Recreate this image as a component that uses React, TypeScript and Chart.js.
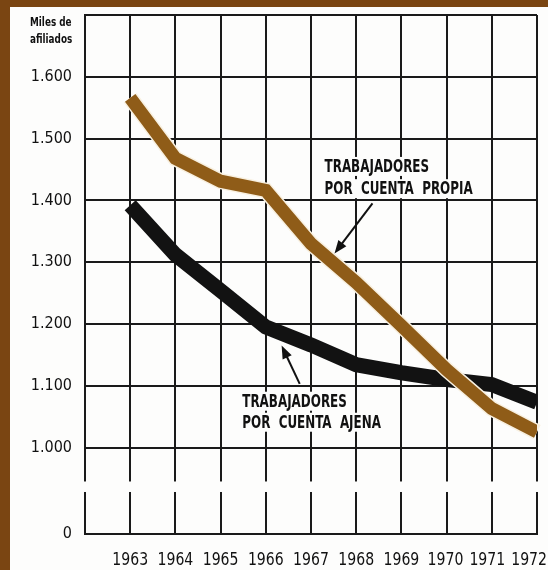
import React, { useEffect, useRef } from 'react';
import { Chart, registerables } from 'chart.js';

Chart.register(...registerables);

// ---- data ----
const years = [1963, 1964, 1965, 1966, 1967, 1968, 1969, 1970, 1971, 1972];
const cuentaPropia = [1566, 1468, 1431, 1416, 1330, 1267, 1197, 1126, 1063, 1025];
const cuentaAjena = [1392, 1312, 1254, 1195, 1166, 1134, 1121, 1110, 1102, 1073];
const yTickValues = [860, 1000, 1100, 1200, 1300, 1400, 1500, 1600, 1700];
const yAxisBottomLabel = '0';
const axisTitle = ['Miles de', 'afiliados'];
const labelPropia = ['TRABAJADORES', 'POR  CUENTA  PROPIA'];
const labelAjena = ['TRABAJADORES', 'POR  CUENTA  AJENA'];
const breakUpper = 945;
const breakLower = 928;

// ---- style ----
const FRAME = '#7a4512';
const PAPER = '#fdfdfc';
const BROWN = '#8f5c18';
const BLACK = '#121212';
const GRID = '#1a1a1a';
const FONT = "'DejaVu Sans Condensed', 'Liberation Sans Narrow', sans-serif";

function fmtThousands(v: number): string {
  const th = Math.floor(v / 1000);
  const rest = String(v % 1000).padStart(3, '0');
  return `${th}.${rest}`;
}

function drawArrow(ctx: CanvasRenderingContext2D, x1: number, y1: number, x2: number, y2: number) {
  const ang = Math.atan2(y2 - y1, x2 - x1);
  const headLen = 13;
  const headW = 5;
  ctx.save();
  ctx.strokeStyle = '#111';
  ctx.fillStyle = '#111';
  ctx.lineWidth = 2;
  ctx.beginPath();
  ctx.moveTo(x1, y1);
  ctx.lineTo(x2 - Math.cos(ang) * headLen * 0.8, y2 - Math.sin(ang) * headLen * 0.8);
  ctx.stroke();
  ctx.beginPath();
  ctx.moveTo(x2, y2);
  ctx.lineTo(x2 - Math.cos(ang) * headLen - Math.sin(ang) * headW, y2 - Math.sin(ang) * headLen + Math.cos(ang) * headW);
  ctx.lineTo(x2 - Math.cos(ang) * headLen + Math.sin(ang) * headW, y2 - Math.sin(ang) * headLen - Math.cos(ang) * headW);
  ctx.closePath();
  ctx.fill();
  ctx.restore();
}

const SQUEEZE = 0.78;

function drawLabel(ctx: CanvasRenderingContext2D, lines: string[], x: number, baselines: number[]) {
  ctx.save();
  ctx.font = `bold 17px ${FONT}`;
  ctx.textAlign = 'left';
  ctx.textBaseline = 'alphabetic';
  lines.forEach((t, i) => {
    const w = ctx.measureText(t).width * SQUEEZE;
    ctx.fillStyle = PAPER;
    ctx.fillRect(x - 3, baselines[i] - 15, w + 6, 19);
  });
  ctx.fillStyle = '#111';
  lines.forEach((t, i) => {
    ctx.save();
    ctx.translate(x, baselines[i]);
    ctx.scale(SQUEEZE, 1);
    ctx.fillText(t, 0, 0);
    ctx.restore();
  });
  ctx.restore();
}

const decorPlugin = {
  id: 'decor',
  beforeDatasetsDraw(chart: any) {
    const { ctx, chartArea, scales } = chart;
    const y = scales.y;
    const top = y.getPixelForValue(breakUpper);
    const bottom = y.getPixelForValue(breakLower);
    ctx.save();
    ctx.fillStyle = PAPER;
    ctx.fillRect(chartArea.left - 3, top, chartArea.right - chartArea.left + 6, bottom - top);
    ctx.restore();
  },
  beforeDatasetDraw(chart: any, args: any) {
    if (args.index !== 0) return;
    const meta = chart.getDatasetMeta(0);
    const ctx = chart.ctx;
    ctx.save();
    ctx.strokeStyle = '#f8f0e0';
    ctx.lineWidth = 16;
    ctx.lineJoin = 'miter';
    ctx.beginPath();
    meta.data.forEach((p: any, i: number) => (i === 0 ? ctx.moveTo(p.x, p.y) : ctx.lineTo(p.x, p.y)));
    ctx.stroke();
    ctx.restore();
  },
  afterDatasetsDraw(chart: any) {
    const { ctx, chartArea, scales, width } = chart;
    const x = scales.x;
    const y = scales.y;
    // axis title
    ctx.save();
    ctx.font = `bold 12px ${FONT}`;
    ctx.fillStyle = '#111';
    ctx.textAlign = 'left';
    ctx.textBaseline = 'alphabetic';
    axisTitle.forEach((t, i) => {
      ctx.save();
      ctx.translate(chartArea.left - 55, chartArea.top + 11 + i * 17);
      ctx.scale(0.82, 1);
      ctx.fillText(t, 0, 0);
      ctx.restore();
    });
    ctx.restore();

    // year labels: centred on their gridline, pushed left only to stay inside the canvas
    ctx.save();
    ctx.font = `17px ${FONT}`;
    ctx.fillStyle = '#111';
    ctx.textAlign = 'left';
    ctx.textBaseline = 'alphabetic';
    const sx = 0.92;
    const gap = 6;
    const items = years.map((yr) => {
      const t = String(yr);
      const w = ctx.measureText(t).width * sx;
      return { t, w, cx: x.getPixelForValue(yr) };
    });
    for (let i = items.length - 1; i >= 0; i--) {
      const limit = i === items.length - 1 ? width - 1 : items[i + 1].cx - items[i + 1].w / 2 - gap;
      items[i].cx = Math.min(items[i].cx, limit - items[i].w / 2);
    }
    items.forEach((it) => {
      ctx.save();
      ctx.translate(it.cx - it.w / 2, chartArea.bottom + 31);
      ctx.scale(sx, 1);
      ctx.fillText(it.t, 0, 0);
      ctx.restore();
    });
    ctx.restore();

    drawLabel(ctx, labelPropia, x.getPixelForValue(1967.3), [y.getPixelForValue(1446), y.getPixelForValue(1410)]);
    drawArrow(ctx, x.getPixelForValue(1968.36), y.getPixelForValue(1395), x.getPixelForValue(1967.52), y.getPixelForValue(1314));

    drawLabel(ctx, labelAjena, x.getPixelForValue(1965.48), [y.getPixelForValue(1066), y.getPixelForValue(1032)]);
    drawArrow(ctx, x.getPixelForValue(1966.75), y.getPixelForValue(1103), x.getPixelForValue(1966.35), y.getPixelForValue(1165));
  },
};

export default function App() {
  const ref = useRef<HTMLCanvasElement | null>(null);

  useEffect(() => {
    if (!ref.current) return;
    const chart = new Chart(ref.current, {
      type: 'line',
      data: {
        datasets: [
          {
            label: 'Trabajadores por cuenta propia',
            data: years.map((yr, i) => ({ x: yr, y: cuentaPropia[i] })),
            borderColor: BROWN,
            borderWidth: 13,
            pointRadius: 0,
            tension: 0,
            borderJoinStyle: 'miter',
            borderCapStyle: 'butt',
          },
          {
            label: 'Trabajadores por cuenta ajena',
            data: years.map((yr, i) => ({ x: yr, y: cuentaAjena[i] })),
            borderColor: BLACK,
            borderWidth: 15,
            pointRadius: 0,
            tension: 0,
            borderJoinStyle: 'miter',
            borderCapStyle: 'butt',
          },
        ],
      },
      options: {
        responsive: false,
        animation: false,
        layout: { padding: { top: 8, right: 11, left: 0, bottom: 0 } },
        plugins: {
          legend: { display: false },
          tooltip: { enabled: false },
          title: { display: false },
        },
        scales: {
          x: {
            type: 'linear',
            min: years[0] - 1,
            max: years[years.length - 1],
            afterBuildTicks: (s: any) => {
              s.ticks = [years[0] - 1, ...years].map((v) => ({ value: v }));
            },
            ticks: { display: false },
            grid: { color: GRID, lineWidth: 2, drawTicks: false },
            border: { color: GRID, width: 2 },
            afterFit: (s: any) => {
              s.height = 36;
              s.paddingLeft = 0;
              s.paddingRight = 0;
            },
          },
          y: {
            type: 'linear',
            min: yTickValues[0],
            max: yTickValues[yTickValues.length - 1],
            afterBuildTicks: (s: any) => {
              s.ticks = yTickValues.map((v) => ({ value: v }));
            },
            ticks: {
              callback: (v: any) => {
                if (v === yTickValues[0]) return yAxisBottomLabel;
                if (v === yTickValues[yTickValues.length - 1]) return '';
                return fmtThousands(v);
              },
              font: { family: FONT, size: 16 },
              color: '#111',
              padding: 13,
              autoSkip: false,
            },
            grid: { color: GRID, lineWidth: 2, drawTicks: false },
            border: { color: GRID, width: 2 },
            afterFit: (s: any) => {
              s.width = 75;
              s.paddingTop = 0;
              s.paddingBottom = 0;
            },
          },
        },
      },
      plugins: [decorPlugin],
    });
    return () => chart.destroy();
  }, []);

  return (
    <div style={{ position: 'absolute', left: 0, top: 0, width: 548, height: 570, background: FRAME, overflow: 'hidden' }}>
      <div style={{ position: 'absolute', left: 10, top: 7, width: 538, height: 563, background: PAPER }}>
        <canvas ref={ref} width={538} height={563} style={{ display: 'block', width: 538, height: 563 }} />
      </div>
    </div>
  );
}
